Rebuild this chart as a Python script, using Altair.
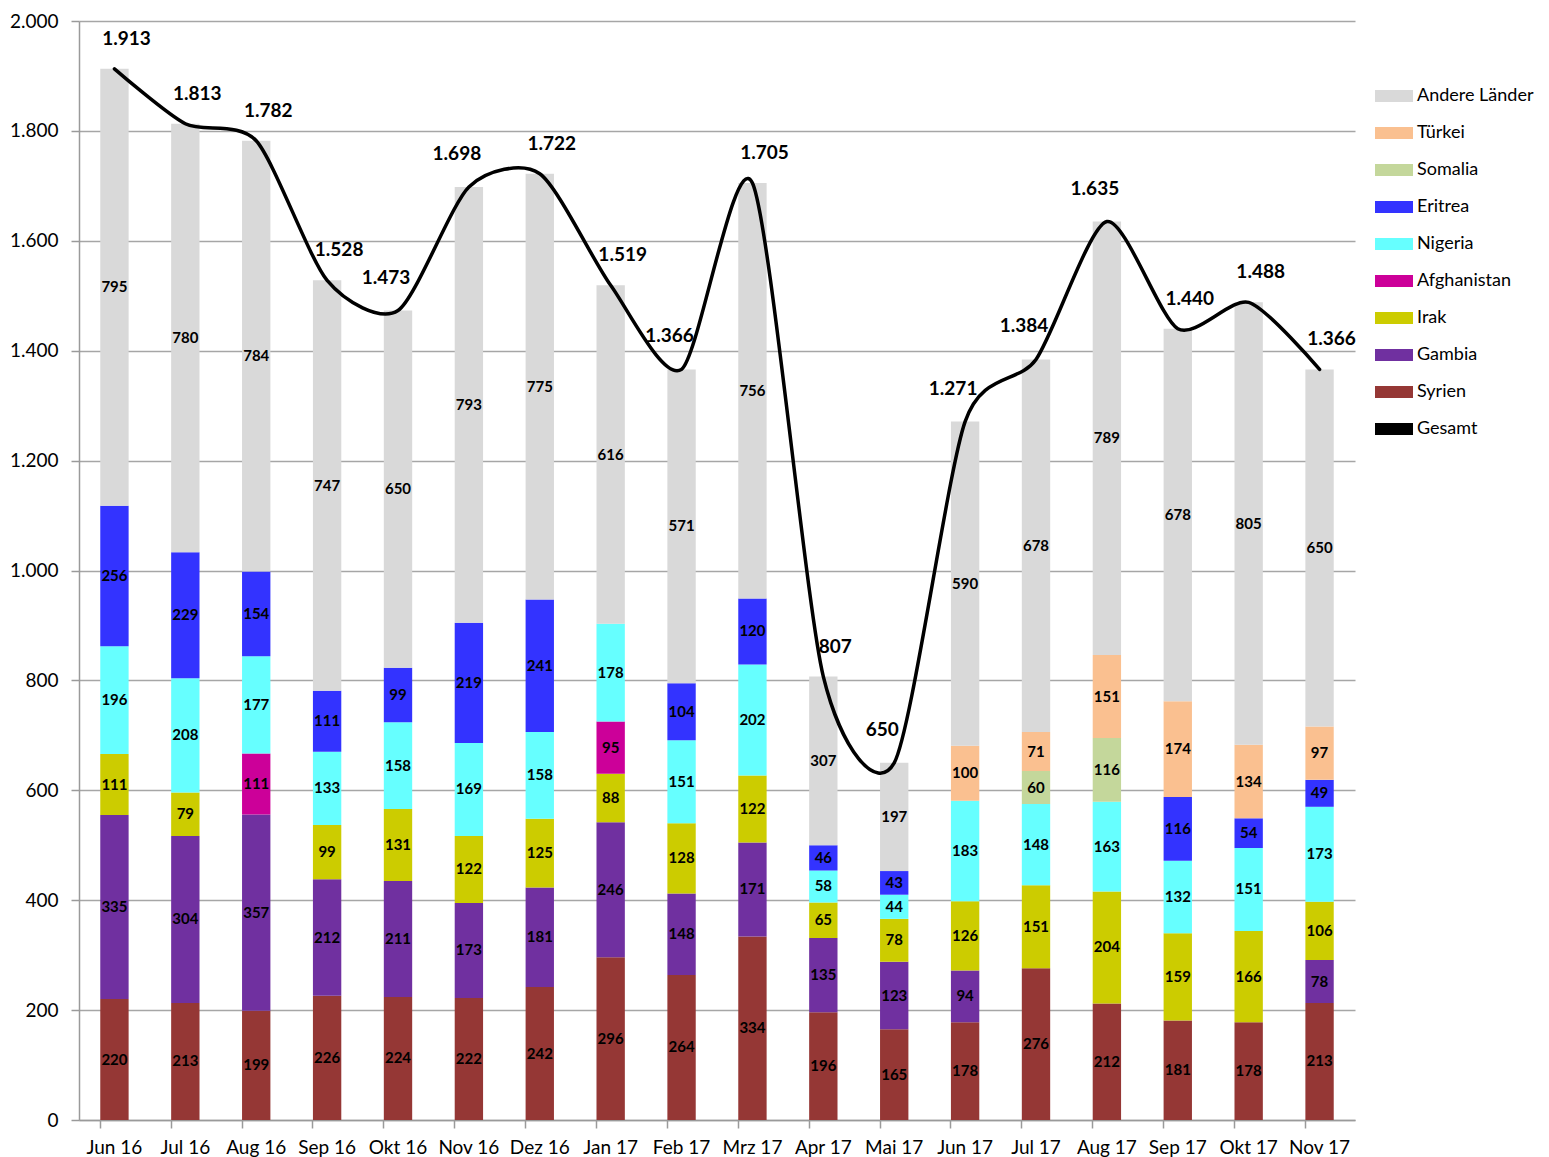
import altair as alt
import pandas as pd

months = ["Jun 16", "Jul 16", "Aug 16", "Sep 16", "Okt 16", "Nov 16", "Dez 16", "Jan 17", "Feb 17",
          "Mrz 17", "Apr 17", "Mai 17", "Jun 17", "Jul 17", "Aug 17", "Sep 17", "Okt 17", "Nov 17"]

syrien = [220, 213, 199, 226, 224, 222, 242, 296, 264, 334, 196, 165, 178, 276, 212, 181, 178, 213]
gambia = [335, 304, 357, 212, 211, 173, 181, 246, 148, 171, 135, 123, 94, None, None, None, None, 78]
irak = [111, 79, None, 99, 131, 122, 125, 88, 128, 122, 65, 78, 126, 151, 204, 159, 166, 106]
afghanistan = [None, None, 111, None, None, None, None, 95, None, None, None, None, None, None, None, None, None, None]
nigeria = [196, 208, 177, 133, 158, 169, 158, 178, 151, 202, 58, 44, 183, 148, 163, 132, 151, 173]
eritrea = [256, 229, 154, 111, 99, 219, 241, None, 104, 120, 46, 43, None, None, None, 116, 54, 49]
somalia = [None, None, None, None, None, None, None, None, None, None, None, None, None, 60, 116, None, None, None]
tuerkei = [None, None, None, None, None, None, None, None, None, None, None, None, 100, 71, 151, 174, 134, 97]
andere = [795, 780, 784, 747, 650, 793, 775, 616, 571, 756, 307, 197, 590, 678, 789, 678, 805, 650]
gesamt = [1913, 1813, 1782, 1528, 1473, 1698, 1722, 1519, 1366, 1705, 807, 650, 1271, 1384, 1635, 1440, 1488, 1366]

stack_order = ["Syrien", "Gambia", "Irak", "Afghanistan", "Nigeria", "Eritrea", "Somalia", "Türkei", "Andere Länder"]
series = {
    "Syrien": syrien, "Gambia": gambia, "Irak": irak, "Afghanistan": afghanistan,
    "Nigeria": nigeria, "Eritrea": eritrea, "Somalia": somalia, "Türkei": tuerkei,
    "Andere Länder": andere,
}
legend_domain = ["Andere Länder", "Türkei", "Somalia", "Eritrea", "Nigeria", "Afghanistan",
                 "Irak", "Gambia", "Syrien", "Gesamt"]
legend_colors = ["#d9d9d9", "#fac090", "#c4d79b", "#3333ff", "#66ffff", "#cc0099",
                 "#cccc00", "#7030a0", "#953735", "#000000"]

rows = []
for order, name in enumerate(stack_order):
    for m, v in zip(months, series[name]):
        if v is not None:
            rows.append({"month": m, "country": name, "value": v, "order": order})
df = pd.DataFrame(rows)
tot = pd.DataFrame({"month": months, "total": gesamt, "idx": list(range(len(months))),
                    "country": ["Gesamt"] * len(months)})

FONT = "Lato"
color_scale = alt.Scale(domain=legend_domain, range=legend_colors)
y_scale = alt.Scale(domain=[0, 2000], nice=False)

x_enc = alt.X(
    "month:N", sort=months, title=None,
    scale=alt.Scale(paddingInner=0.6, paddingOuter=0.3),
    axis=alt.Axis(labelAngle=0, labelFontSize=19, labelFont=FONT, labelColor="#000000",
                  domainColor="#9a9a9a", domainWidth=1.5, tickColor="#9a9a9a", tickWidth=1.5,
                  tickSize=8, bandPosition=0, labelPadding=10, grid=False),
)

legend = alt.Legend(
    title=None, orient="none", legendX=1296, legendY=56,
    symbolType="M-1,-0.32H1V0.32H-1Z", symbolSize=1444, symbolStrokeWidth=0,
    labelFont=FONT, labelFontSize=18, labelColor="#000000", labelOffset=4, rowPadding=9,
)

base = alt.Chart(df).transform_stack(
    stack="value", as_=["y0", "y1"], groupby=["month"],
    sort=[alt.SortField("order", order="ascending")],
).transform_calculate(mid="(datum.y0 + datum.y1) / 2")

bars = base.mark_bar().encode(
    x=x_enc,
    y=alt.Y("y0:Q", scale=y_scale, title=None,
            axis=alt.Axis(values=list(range(0, 2001, 200)),
                          labelExpr="replace(format(datum.value, ','), ',', '.')",
                          labelFontSize=19, labelFont=FONT, labelColor="#000000",
                          gridColor="#a6a6a6", gridWidth=1.5,
                          domainColor="#9a9a9a", domainWidth=1.5,
                          tickColor="#9a9a9a", tickWidth=1.5, tickSize=8, labelPadding=13)),
    y2="y1:Q",
    color=alt.Color("country:N", scale=color_scale, legend=legend),
)

seg_labels = base.mark_text(font=FONT, fontSize=15, fontWeight="bold", color="#000000").encode(
    x=x_enc, y=alt.Y("mid:Q", scale=y_scale), text="value:Q",
)

line = alt.Chart(tot).mark_line(interpolate="cardinal", tension=0.25, strokeWidth=3.5, strokeCap="round").encode(
    x=x_enc, y=alt.Y("total:Q", scale=y_scale),
    color=alt.Color("country:N", scale=color_scale, legend=legend),
)

# total labels nudged away from the side where the line climbs (from neighbouring totals)
tot_base = alt.Chart(tot).transform_window(
    prev="lag(total)", next="lead(total)", sort=[alt.SortField("idx")],
).transform_calculate(
    label="replace(format(datum.total, ','), ',', '.')",
    side="(datum.prev == null || datum.next == null) ? 1 : (datum.prev >= datum.next ? 1 : -1)",
)
tot_right = tot_base.transform_filter("datum.side > 0").mark_text(
    font=FONT, fontSize=19, fontWeight="bold", color="#000000", dy=-30, dx=12,
).encode(x=x_enc, y=alt.Y("total:Q", scale=y_scale), text="label:N")
tot_left = tot_base.transform_filter("datum.side < 0").mark_text(
    font=FONT, fontSize=19, fontWeight="bold", color="#000000", dy=-33, dx=-12,
).encode(x=x_enc, y=alt.Y("total:Q", scale=y_scale), text="label:N")

chart = alt.layer(bars, seg_labels, line, tot_right, tot_left).properties(
    width=1276, height=1099,
    padding={"left": 1, "top": 4, "right": 0, "bottom": 0},
).configure_view(strokeOpacity=0)

chart.save("out.html", embed_options={"renderer": "svg", "actions": False})
